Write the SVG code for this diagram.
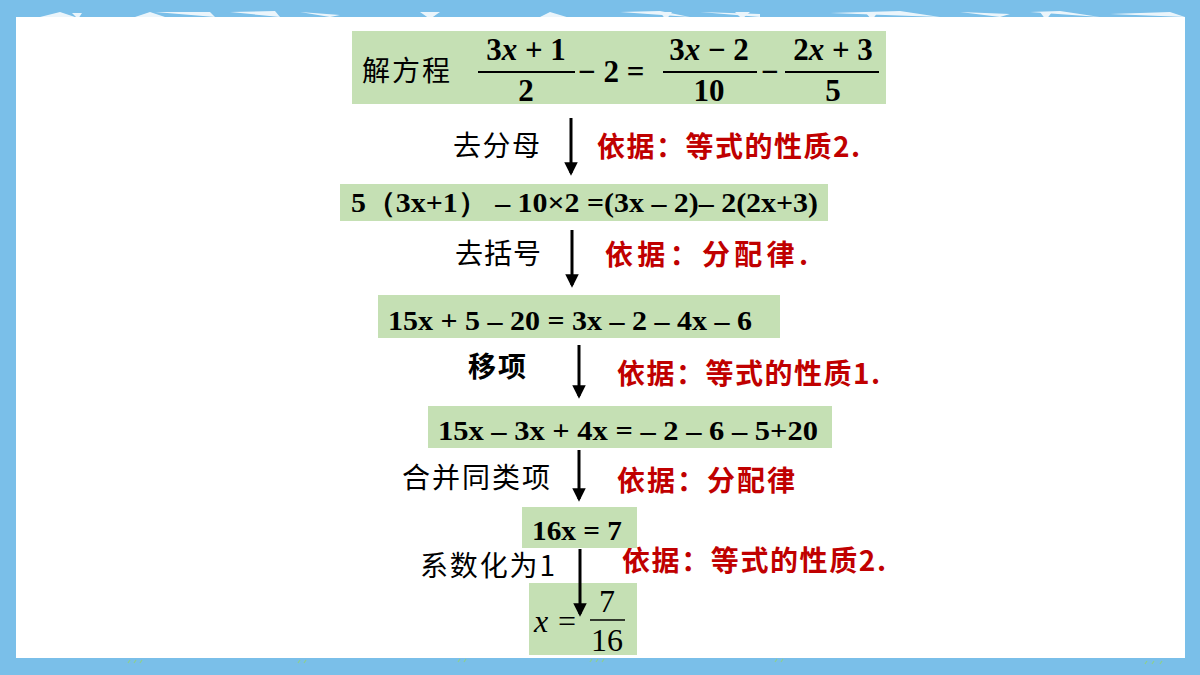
<svg xmlns="http://www.w3.org/2000/svg" width="1200" height="675" viewBox="0 0 1200 675">
<defs>
<style>
.box{fill:#c5e0b4}
.eq{font-family:"Liberation Serif",serif;font-weight:bold;font-size:28px;fill:#000}
.m{font-family:"Liberation Serif",serif;font-weight:bold;font-size:31px;fill:#000}
.mr{font-family:"Liberation Serif",serif;font-size:32px;fill:#000}
.cn{font-family:"Noto Sans CJK SC","Noto Sans",sans-serif;font-size:28px;fill:#000}
.red{font-family:"Noto Sans CJK SC","Noto Sans",sans-serif;font-size:28px;font-weight:bold;fill:#c00000}
.bar{stroke:#000;stroke-width:2}
.arr{stroke:#000;stroke-width:3;fill:none}
</style>
<marker id="ah" viewBox="0 0 10 10" refX="8" refY="5" markerWidth="5" markerHeight="4.5" orient="auto" markerUnits="strokeWidth">
<path d="M0,0 L10,5 L0,10 Z" fill="#000"/>
</marker>
</defs>
<rect x="0" y="0" width="1200" height="675" fill="#7abfe9"/>
<rect x="16" y="17" width="1169" height="641" fill="#ffffff"/>
<g fill="#ffffff" opacity="0.85">
<polygon points="40,17 60,12 75,17"/><polygon points="72,13 82,13 78,19"/>
<polygon points="135,17 150,12 165,17"/><polygon points="155,12 210,12 215,17"/>
<polygon points="230,12 275,11 280,17"/><polygon points="300,12 340,15 330,17"/>
<polygon points="420,12 440,12 430,19"/><polygon points="550,12 570,18 540,17"/>
<polygon points="620,12 660,11 690,17"/><polygon points="660,12 672,12 666,20"/>
<polygon points="700,12 760,14 760,17"/><polygon points="735,12 750,12 742,19"/>
<polygon points="830,13 900,11 940,17"/><polygon points="865,12 878,12 872,20"/>
<polygon points="960,12 1010,14 1000,17"/><polygon points="1030,12 1060,11 1100,17"/><polygon points="1040,12 1052,12 1046,20"/>
<polygon points="1110,14 1170,12 1185,17"/>
</g>
<g stroke="#8fd08a" stroke-width="1.2">
<path d="M128,663 l2,-3 M134,663 l2,-3 M140,663 l2,-3"/>
<path d="M298,663 l2,-3 M304,663 l2,-3"/>
<path d="M458,662 l2,-3 M464,662 l2,-3"/>
<path d="M590,662 l2,-3 M596,662 l2,-3 M602,662 l2,-3"/>
<path d="M775,662 l2,-3 M781,662 l2,-3"/>
<path d="M1145,664 l2,-3 M1152,664 l2,-3 M1160,664 l2,-3"/>
</g>
<g id="labels">
<text class="cn" x="453" y="156" textLength="87" lengthAdjust="spacing">去分母</text>
<text class="red" x="597" y="157" textLength="263" lengthAdjust="spacing">依据：等式的性质2.</text>
<text class="cn" x="455" y="264" textLength="86" lengthAdjust="spacing">去括号</text>
<text class="red" x="605" y="265" textLength="203" lengthAdjust="spacing">依据：分配律.</text>
<text class="cn" x="468" y="377" font-weight="bold" textLength="58" lengthAdjust="spacing">移项</text>
<text class="red" x="617" y="384" textLength="263" lengthAdjust="spacing">依据：等式的性质1.</text>
<text class="cn" x="402" y="488" textLength="148" lengthAdjust="spacing">合并同类项</text>
<text class="red" x="617" y="491" textLength="178" lengthAdjust="spacing">依据：分配律</text>
<text class="cn" x="420" y="576" textLength="135" lengthAdjust="spacing">系数化为1</text>
<text class="red" x="622" y="571" textLength="264" lengthAdjust="spacing">依据：等式的性质2.</text>
</g>
<g id="node1">
<rect class="box" x="352" y="31" width="534" height="73"/>
<text class="cn" x="362" y="81" textLength="88" lengthAdjust="spacing">解方程</text>
<text class="m" x="526" y="60" text-anchor="middle">3<tspan font-style="italic">x</tspan> + 1</text>
<line class="bar" x1="478" y1="72" x2="575" y2="72"/>
<text class="m" x="526" y="101" text-anchor="middle">2</text>
<text class="m" x="578" y="82">− 2 =</text>
<text class="m" x="709" y="60" text-anchor="middle">3<tspan font-style="italic">x</tspan> − 2</text>
<line class="bar" x1="663" y1="72" x2="757" y2="72"/>
<text class="m" x="709" y="101" text-anchor="middle">10</text>
<text class="m" x="761" y="82">−</text>
<text class="m" x="833" y="60" text-anchor="middle">2<tspan font-style="italic">x</tspan> + 3</text>
<line class="bar" x1="785" y1="72" x2="879" y2="72"/>
<text class="m" x="833" y="101" text-anchor="middle">5</text>
</g>
<g id="node2">
<rect class="box" x="340" y="184" width="488" height="37"/>
<text class="eq" x="351" y="212" textLength="467" lengthAdjust="spacingAndGlyphs">5（3x+1） – 10×2 =(3x – 2)– 2(2x+3)</text>
</g>
<g id="node3">
<rect class="box" x="378" y="295" width="402" height="43"/>
<text class="eq" x="388" y="330" textLength="364" lengthAdjust="spacingAndGlyphs">15x + 5 – 20 = 3x – 2 – 4x – 6</text>
</g>
<g id="node4">
<rect class="box" x="428" y="406" width="404" height="42"/>
<text class="eq" x="438" y="440" textLength="380" lengthAdjust="spacingAndGlyphs">15x – 3x + 4x =  – 2 – 6 – 5+20</text>
</g>
<g id="node5">
<rect class="box" x="522" y="507" width="115" height="41"/>
<text class="eq" x="532" y="540" textLength="90" lengthAdjust="spacingAndGlyphs">16x = 7</text>
</g>
<g id="node6">
<rect class="box" x="529" y="583" width="108" height="72"/>
<text class="mr" x="534" y="632" font-style="italic">x</text>
<text class="mr" x="558" y="632">=</text>
<line x1="590" y1="620" x2="625" y2="620" stroke="#000" stroke-width="1.5"/>
<text class="mr" x="607" y="612" text-anchor="middle">7</text>
<text class="mr" x="607" y="651" text-anchor="middle">16</text>
</g>
<g id="connectors">
<line class="arr" x1="571" y1="118" x2="571" y2="173" marker-end="url(#ah)"/>
<line class="arr" x1="572" y1="230" x2="572" y2="285" marker-end="url(#ah)"/>
<line class="arr" x1="579" y1="345" x2="579" y2="396" marker-end="url(#ah)"/>
<line class="arr" x1="579" y1="450" x2="579" y2="499" marker-end="url(#ah)"/>
<line class="arr" x1="580" y1="549" x2="580" y2="614" marker-end="url(#ah)"/>
</g>
</svg>
